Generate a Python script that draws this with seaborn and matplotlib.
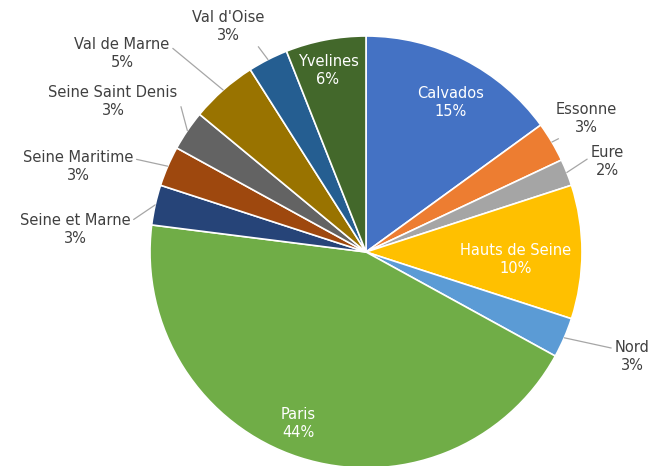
import matplotlib
matplotlib.use("Agg")
import matplotlib.pyplot as plt
import seaborn as sns
import numpy as np

# share of records per departement (percent)
departements = ["Calvados", "Essonne", "Eure", "Hauts de Seine", "Nord", "Paris",
                "Seine et Marne", "Seine Maritime", "Seine Saint Denis",
                "Val de Marne", "Val d'Oise", "Yvelines"]
parts = [15, 3, 2, 10, 3, 44, 3, 3, 3, 5, 3, 6]

# Office-like palette
colours = ["#4472C4", "#ED7D31", "#A5A5A5", "#FFC000", "#5B9BD5", "#70AD47",
           "#264478", "#9E480E", "#636363", "#997300", "#255E91", "#43682B"]

# label layout in pie-radius units; leader = where the line leaves the text box
inside = {"Calvados", "Hauts de Seine", "Paris", "Yvelines"}
label_xy = [(0.39, 0.69), (1.02, 0.616), (1.116, 0.417), (0.694, -0.037),
            (1.231, -0.486), (-0.315, -0.796), (-1.347, 0.102), (-1.333, 0.394),
            (-1.171, 0.699), (-1.13, 0.917), (-0.639, 1.042), (-0.176, 0.838)]
leader_rel = [None, (0.15, 0.0), (0.0, 0.65), None, (0.0, 0.75), None,
              (1.0, 0.75), (1.0, 0.75), (1.0, 0.7), (1.0, 0.75), (0.8, 0.25), None]

sns.set_theme(style="white")
plt.rcParams['font.family'] = ['DejaVu Sans']

fig = plt.figure(figsize=(6.52, 4.66), dpi=100)
ax = fig.add_axes([0, 0, 1, 1])

wedges, _ = ax.pie(parts, colors=colours, startangle=90, counterclock=False,
                   radius=1.0, wedgeprops=dict(edgecolor="white", linewidth=1.2))

for i, (name, w) in enumerate(zip(departements, wedges)):
    txt = f"{name}\n{parts[i]}%"
    mid = np.deg2rad((w.theta1 + w.theta2) / 2)
    if name in inside:
        ax.text(*label_xy[i], txt, ha="center", va="center", color="white",
                fontsize=10.5, linespacing=1.25)
    else:
        edge = (np.cos(mid) * 1.0, np.sin(mid) * 1.0)
        ax.annotate(txt, xy=edge, xytext=label_xy[i], ha="center", va="center",
                    color="#404040", fontsize=10.5, linespacing=1.25,
                    arrowprops=dict(arrowstyle="-", color="#A6A6A6", lw=0.9,
                                    shrinkA=0, shrinkB=0, relpos=leader_rel[i]))

ax.set_xlim(-366 / 216, (652 - 366) / 216)
ax.set_ylim(-(466 - 252) / 216, 252 / 216)
ax.set_aspect("auto")
ax.axis("off")

fig.savefig("out.png", dpi=100)
